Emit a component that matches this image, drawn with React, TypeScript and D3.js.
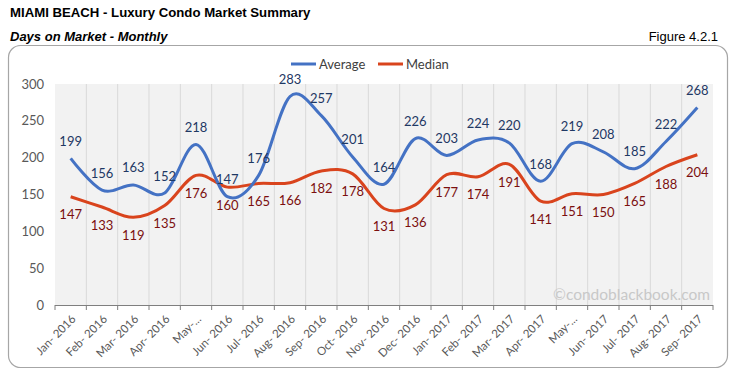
import React from "react";
import * as d3 from "d3";

const categories = [
  "Jan- 2016", "Feb- 2016", "Mar- 2016", "Apr- 2016", "May-...", "Jun- 2016", "Jul- 2016",
  "Aug- 2016", "Sep- 2016", "Oct- 2016", "Nov- 2016", "Dec- 2016", "Jan- 2017", "Feb- 2017",
  "Mar- 2017", "Apr- 2017", "May-...", "Jun- 2017", "Jul- 2017", "Aug- 2017", "Sep- 2017",
];
const averageValues = [199, 156, 163, 152, 218, 147, 176, 283, 257, 201, 164, 226, 203, 224, 220, 168, 219, 208, 185, 222, 268];
const medianValues = [147, 133, 119, 135, 176, 160, 165, 166, 182, 178, 131, 136, 177, 174, 191, 141, 151, 150, 165, 188, 204];
const yTicks = [0, 50, 100, 150, 200, 250, 300];

const W = 732;
const H = 378;
const plot = { left: 55, right: 713, top: 84, bottom: 305 };
const FONT = "Lato, 'Open Sans', sans-serif";
const ARIAL = "'Liberation Sans', Arial, sans-serif";

export default function App() {
  const x = d3.scaleBand<number>().domain(categories.map((_, i) => i)).range([plot.left, plot.right]).paddingInner(0).paddingOuter(0);
  const y = d3.scaleLinear().domain([0, 300]).range([plot.bottom, plot.top]);
  const cx = (i: number) => (x(i) as number) + x.bandwidth() / 2;
  const line = d3
    .line<number>()
    .x((_, i) => cx(i))
    .y((d) => y(d))
    .curve(d3.curveCardinal.tension(0));

  const boundaries = d3.range(categories.length + 1).map((i) => plot.left + i * x.bandwidth());

  return (
    <svg width={W} height={H} style={{ position: "absolute", left: 0, top: 0, background: "#fff" }}>
      <text x={10} y={17} fontFamily={ARIAL} fontWeight="bold" fontSize={13.2} fill="#000">
        MIAMI BEACH - Luxury Condo Market Summary
      </text>
      <text x={10} y={41} fontFamily={ARIAL} fontWeight="bold" fontStyle="italic" fontSize={13} fill="#000">
        Days on Market - Monthly
      </text>
      <text x={718} y={41} textAnchor="end" fontFamily={ARIAL} fontSize={13} fill="#000">
        Figure 4.2.1
      </text>
      <rect x={8.5} y={45.5} width={719} height={322} rx={12} ry={12} fill="#fff" stroke="#a6a6a6" strokeWidth={1.2} />

      <rect x={plot.left} y={plot.top} width={plot.right - plot.left} height={plot.bottom - plot.top} fill="#f2f2f2" />
      {boundaries.slice(1, -1).map((bx, i) => (
        <line key={"g" + i} x1={bx} x2={bx} y1={plot.top} y2={plot.bottom} stroke="#d9d9d9" strokeWidth={1} />
      ))}
      <line x1={plot.left} x2={plot.right} y1={plot.bottom + 0.5} y2={plot.bottom + 0.5} stroke="#7f7f7f" strokeWidth={1} />
      {boundaries.map((bx, i) => (
        <line key={"t" + i} x1={bx} x2={bx} y1={plot.bottom} y2={plot.bottom + 5} stroke="#7f7f7f" strokeWidth={1} />
      ))}
      {yTicks.map((t) => (
        <text key={"y" + t} x={44} y={y(t)} dy="0.35em" textAnchor="end" fontFamily={FONT} fontSize={13} fill="#595959">
          {t}
        </text>
      ))}
      {categories.map((c, i) => (
        <text
          key={"x" + i}
          transform={`translate(${cx(i) + 3},${plot.bottom + 12}) rotate(-45)`}
          textAnchor="end"
          dy="0.35em"
          fontFamily={FONT}
          fontSize={11.5}
          fill="#595959"
        >
          {c}
        </text>
      ))}

      <text x={710} y={295} dy="0.35em" textAnchor="end" fontFamily={FONT} fontSize={15.5} fill="#c8c8c8">
        ©condoblackbook.com
      </text>

      <path d={line(medianValues) || ""} fill="none" stroke="#d9441d" strokeWidth={3} />
      <path d={line(averageValues) || ""} fill="none" stroke="#4472c4" strokeWidth={3} />

      {averageValues.map((v, i) => (
        <text key={"a" + i} x={cx(i)} y={y(v) - 17} dy="0.35em" textAnchor="middle" fontFamily={FONT} fontSize={13} fill="#1f3864">
          {v}
        </text>
      ))}
      {medianValues.map((v, i) => (
        <text key={"m" + i} x={cx(i)} y={y(v) + 18} dy="0.35em" textAnchor="middle" fontFamily={FONT} fontSize={13} fill="#7b0f0f">
          {v}
        </text>
      ))}

      <line x1={291} x2={316} y1={64} y2={64} stroke="#4472c4" strokeWidth={3} />
      <text x={319} y={64} dy="0.35em" fontFamily={FONT} fontSize={13} fill="#404040">
        Average
      </text>
      <line x1={378} x2={403} y1={64} y2={64} stroke="#d9441d" strokeWidth={3} />
      <text x={406} y={64} dy="0.35em" fontFamily={FONT} fontSize={13} fill="#404040">
        Median
      </text>
    </svg>
  );
}
